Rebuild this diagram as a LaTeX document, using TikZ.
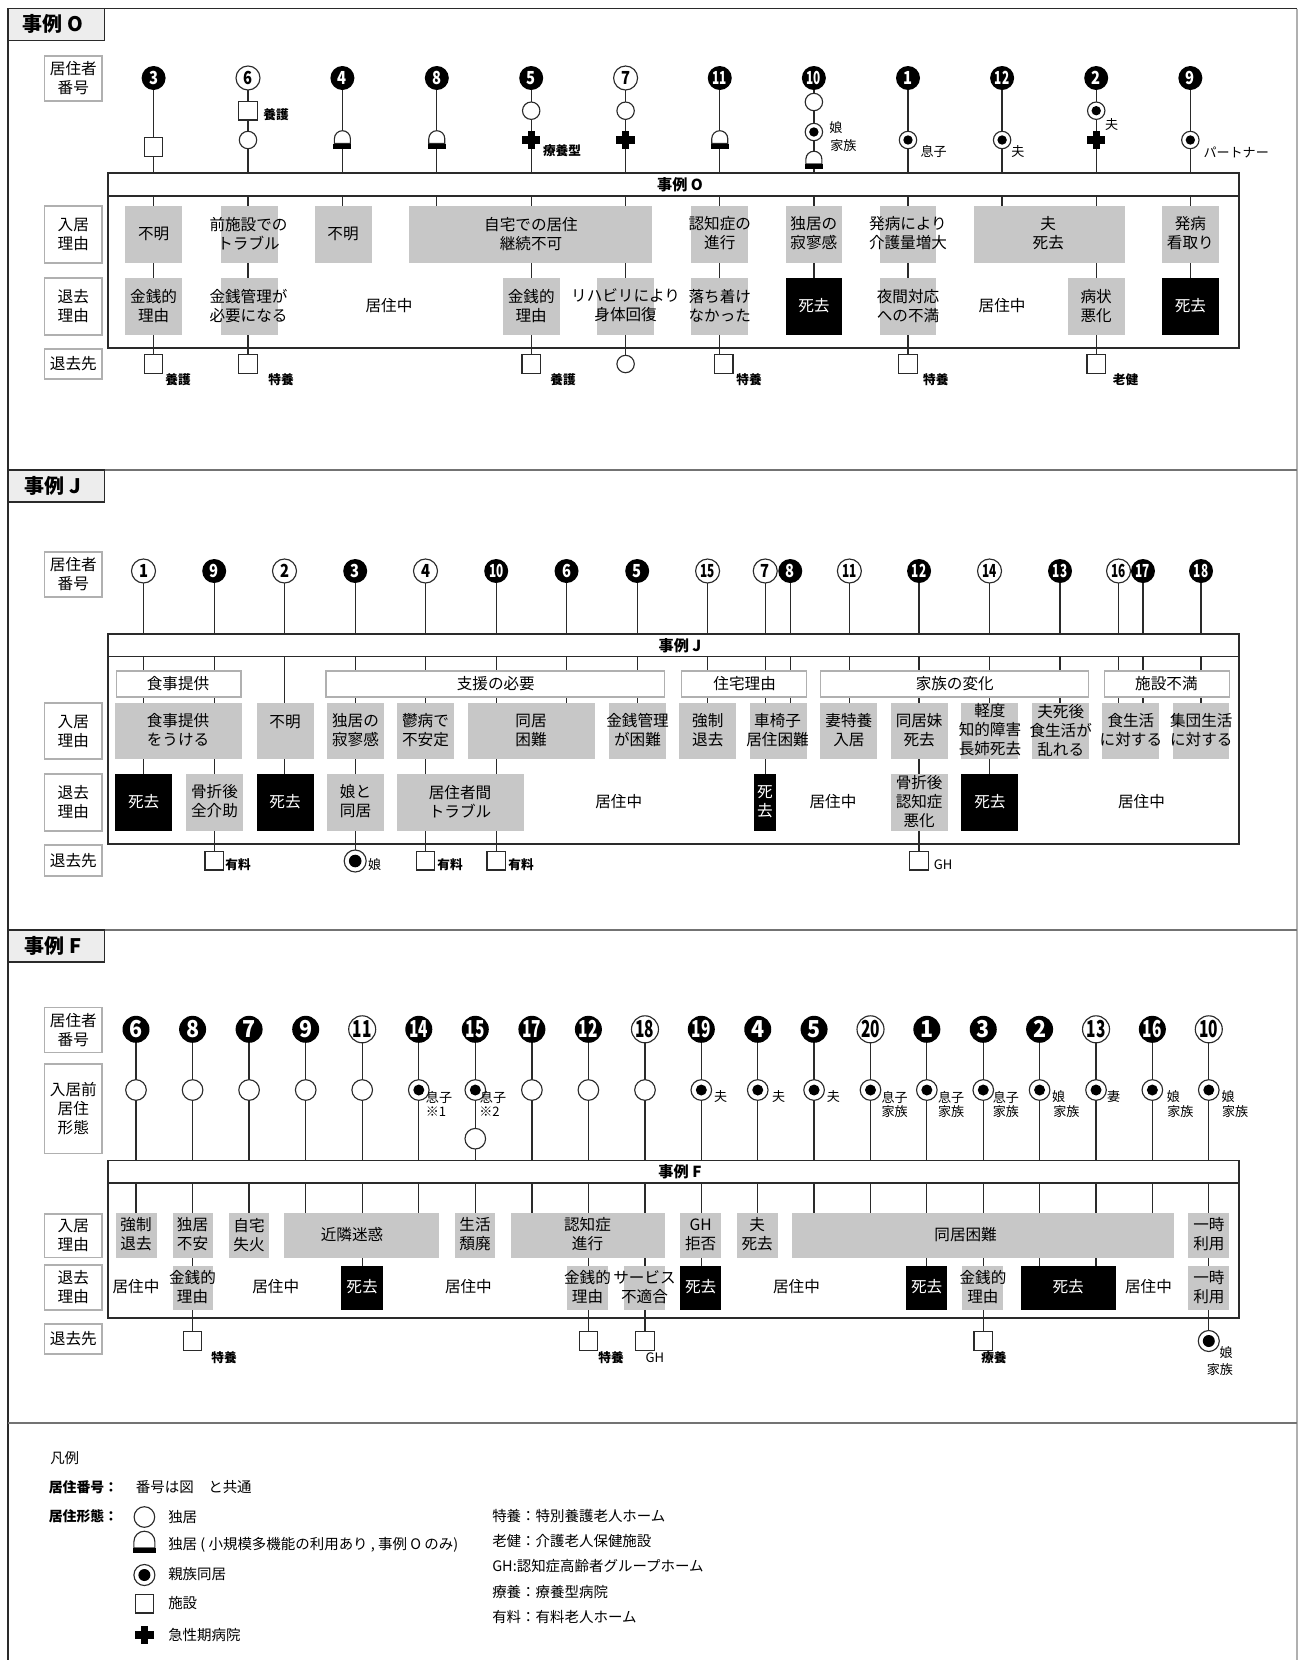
\documentclass[tikz,border=0pt]{standalone}
\usepackage{fontspec}
\setmainfont{Noto Sans CJK JP}
\usetikzlibrary{calc}
\pgfdeclarelayer{background}
\pgfsetlayers{background,main}
\newcounter{autoname}
\definecolor{ink}{HTML}{2A2A2A}
\definecolor{boxgray}{HTML}{C7C7C7}
\definecolor{edgegray}{HTML}{B0B0B0}
\tikzset{
  x=0.75pt,y=-0.75pt,
  declare function={fx(\t)=(\t>640)?(\t-0.003*(\t-640)):\t;},
  lnk/.style={draw=ink,line width=0.95pt},
  plainbox/.style={inner sep=0pt,outer sep=0pt},
  grayfill/.style={plainbox,fill=boxgray},
  blackfill/.style={plainbox,fill=black},
  catbox/.style={plainbox,fill=white,draw=edgegray,line width=0.8pt},
  labbox/.style={plainbox,fill=white,draw=edgegray,line width=1pt},
  headbox/.style={plainbox,fill=white,draw=ink,line width=1.1pt},
  panelbox/.style={plainbox,draw=ink,line width=1.1pt},
  tabbox/.style={plainbox,fill=black!7,draw=ink,line width=0.9pt},
  labt/.style={inner sep=0pt,align=center,font=\fontsize{11.7}{14.25}\selectfont},
  txt/.style={labt,yshift=0.7pt},
  wtxt/.style={txt,text=white},
  tag/.style={inner sep=0pt,align=center,font=\fontsize{9.8}{13}\selectfont},
  tagb/.style={inner sep=0pt,align=center,font=\fontsize{9.5}{12}\selectfont\bfseries},
  legtxt/.style={inner sep=0pt,anchor=west,font=\fontsize{10.85}{13}\selectfont},
  legb/.style={inner sep=0pt,anchor=west,font=\fontsize{10.4}{13}\selectfont\bfseries},
  sym/.style={draw=ink,line width=0.85pt,fill=white,inner sep=0pt,outer sep=0pt},
}
\newcommand\anyB[6]{\node[#1,minimum width={(fx(#4)-fx(#3))*0.75pt},minimum height={(#6-#5)*0.75pt}] (#2) at ({(fx(#3)+fx(#4))/2},{(#5+#6)/2}) {};}
% current row in \ya,\yb
\newcommand\Gbx[5]{\anyB{grayfill}{#1}{#2}{#3}{\ya}{\yb}\stepcounter{autoname}\node[txt] (a\arabic{autoname}) at ({fx(#4)},{(\ya+\yb)/2}) {#5};}
\newcommand\Kbx[5]{\anyB{blackfill}{#1}{#2}{#3}{\ya}{\yb}\stepcounter{autoname}\node[wtxt] (a\arabic{autoname}) at ({fx(#4)},{(\ya+\yb)/2}) {#5};}
\newcommand\Cat[5]{\anyB{catbox}{#1}{#2}{#3}{671}{697}\stepcounter{autoname}\node[labt] (a\arabic{autoname}) at ({fx(#4)},684) {#5};}
\newcommand\Free[2]{\stepcounter{autoname}\node[txt] (a\arabic{autoname}) at ({fx(#1)},{(\ya+\yb)/2}) {#2};}
\newcommand\Lab[4]{\anyB{labbox}{#1}{44.8}{102}{#2}{#3}\stepcounter{autoname}\node[labt] (a\arabic{autoname}) at (73.3,{(#2+#3)/2}) {#4};}
\newcommand\Tag[3]{\stepcounter{autoname}\node[tag] (a\arabic{autoname}) at ({fx(#1)},#2) {#3};}
\newcommand\TagB[3]{\stepcounter{autoname}\node[tagb] (a\arabic{autoname}) at ({fx(#1)},#2) {#3};}
\newcommand\tw[1]{\scalebox{\twsc}[1]{#1}}
\newcommand\Nb[3]{\node[circle,fill=black,text=white,inner sep=0pt,outer sep=0pt,minimum size={\ndia*0.75pt},font=\nfont] (#1) at ({fx(#2)},\ny) {\scalebox{\nsc}[1]{#3}};}
\newcommand\Nw[3]{\node[circle,sym,minimum size={\ndia*0.75pt},font=\nfont] (#1) at ({fx(#2)},\ny) {\scalebox{\nsc}[1]{#3}};}
\newcommand\Sq[3]{\node[sym,minimum size=13.9pt] (#1) at ({fx(#2)},#3) {};}
\newcommand\Ci[4]{\node[sym,circle,minimum size={#4*0.75pt}] (#1) at ({fx(#2)},#3) {};}
\newcommand\Dc[5]{\node[sym,circle,minimum size={#4*0.75pt},path picture={\fill[black] (path picture bounding box.center) circle ({#5*0.75pt});}] (#1) at ({fx(#2)},#3) {};}
% dome: name,x,y of dome/bar junction,radius px
\newcommand\Dm[4]{\coordinate (#1) at ({fx(#2)},#3);
  \filldraw[sym] ($(#1)+(-#4,0)$) -- ++(0,{-#4*0.6}) arc[start angle=180,end angle=0,radius={#4*0.75pt}] -- ($(#1)+(#4,0)$) -- cycle;
  \fill[black] ($(#1)+({-#4-1},0)$) rectangle ($(#1)+({#4+1},5)$);}
\newcommand\Cr[3]{\coordinate (#1) at ({fx(#2)},#3);
  \fill[black] ($(#1)+(-9.2,-3.6)$) rectangle ($(#1)+(9.2,3.6)$);
  \fill[black] ($(#1)+(-3.6,-9.2)$) rectangle ($(#1)+(3.6,9.2)$);}
\begin{document}
\begin{tikzpicture}
\useasboundingbox (0,0) rectangle (1298,1660);
% frame
\draw[ink,line width=0.9pt] (8,1660) -- (8,8.5) -- (1297,8.5);
\draw[edgegray,line width=0.9pt] (1297,8.5) -- (1297,1660);
\draw[black!55,line width=1pt] (8,470) -- (1297,470);
\draw[black!55,line width=1pt] (8,930) -- (1297,930);
\draw[black!55,line width=1pt] (8,1423) -- (1297,1423);
\tikzset{tabt/.style={inner sep=0pt,font=\fontsize{15}{18}\selectfont\bfseries}}
\anyB{tabbox}{tabO}{8}{104.5}{8.5}{40.7}\node[tabt] (tabOt) at (53,24) {事例 O};
\anyB{tabbox}{tabJ}{8}{104.5}{470}{502}\node[tabt] (tabJt) at (53,485.5) {事例 J};
\anyB{tabbox}{tabF}{8}{104.5}{930}{962}\node[tabt] (tabFt) at (53,945.5) {事例 F};
\tikzset{headt/.style={inner sep=0pt,font=\fontsize{11.4}{14}\selectfont\bfseries}}
%==================== CASE O
\anyB{panelbox}{panO}{108}{1241}{173}{348}
\anyB{headbox}{hdO}{108}{1241}{173}{196}\node[headt] (hdOt) at (680,185) {事例 O};
\Lab{lO1}{56}{101}{居住者\\番号}
\Lab{lO2}{206}{263}{入居\\理由}
\Lab{lO3}{278}{335}{退去\\理由}
\Lab{lO4}{349}{379}{退去先}
\def\ndia{24}\def\ny{78}\def\nsc{.82}\def\twsc{.8}\def\nfont{\fontsize{13.5}{13.5}\selectfont\bfseries}
\Nb{O1}{153.6}{3}\Nw{O2}{248}{6}\Nb{O3}{342.4}{4}\Nb{O4}{436.8}{8}\Nb{O5}{531.2}{5}\Nw{O6}{625.6}{7}
\Nb{O7}{720}{\tw{11}}\Nb{O8}{814.4}{\tw{10}}\Nb{O9}{908.8}{1}\Nb{O10}{1003.2}{\tw{12}}\Nb{O11}{1097.6}{2}\Nb{O12}{1192}{9}
% entry row
\def\ya{206}\def\yb{263}
\Gbx{eO1}{125}{182}{153.6}{不明}
\Gbx{eO2}{220.5}{277.5}{248.5}{前施設での\\トラブル}
\Gbx{eO3}{314.5}{371.5}{343}{不明}
\Gbx{eO4}{409}{652}{531}{自宅での居住\\継続不可}
\Gbx{eO7}{691.5}{748.5}{720}{認知症の\\進行}
\Gbx{eO8}{786}{843}{814.4}{独居の\\寂寥感}
\Gbx{eO9}{880.3}{937.3}{908.8}{発病により\\介護量増大}
\Gbx{eO10}{974.6}{1126}{1049.5}{夫\\死去}
\Gbx{eO12}{1163.5}{1220.5}{1192}{発病\\看取り}
% exit row
\def\ya{278}\def\yb{335}
\Gbx{rO1}{125}{182}{153.6}{金銭的\\理由}
\Gbx{rO2}{220.5}{277.5}{248.5}{金銭管理が\\必要になる}
\Free{389}{居住中}
\Gbx{rO5}{502.7}{559.7}{531.2}{金銭的\\理由}
\Gbx{rO6}{597}{654}{625.6}{リハビリにより\\身体回復}
\Gbx{rO7}{691.5}{748.5}{720}{落ち着け\\なかった}
\Kbx{rO8}{786}{843}{814.4}{死去}
\Gbx{rO9}{880.3}{937.3}{908.8}{夜間対応\\への不満}
\Free{1003.2}{居住中}
\Gbx{rO11}{1069}{1126}{1097.6}{病状\\悪化}
\Kbx{rO12}{1163.5}{1220.5}{1192}{死去}
% symbols
\Sq{sO1}{153.6}{147}
\Sq{sO2}{248}{110.7}\Ci{cO2}{248}{140}{17.4}\TagB{276}{115}{養護}
\Dm{dO3}{342.4}{143.5}{8}
\Dm{dO4}{436.8}{143.5}{8}
\Ci{cO5}{531.2}{110.7}{17.4}\Cr{pO5}{531.2}{140}\TagB{562}{151}{療養型}
\Ci{cO6}{625.6}{110.7}{17.4}\Cr{pO6}{625.6}{140}
\Dm{dO7}{720}{143.5}{8}
\Ci{cO8}{814.4}{102}{17.4}\Dc{gO8}{814.4}{132}{17.4}{4.7}\Dm{dO8}{814.4}{164}{8}
\Tag{836.5}{128}{娘}\Tag{844}{146}{家族}
\Dc{gO9}{908.8}{140}{17.4}{4.7}\Tag{934.6}{151}{息子}
\Dc{gO10}{1003.2}{140}{17.4}{4.7}\Tag{1019}{152}{夫}
\Dc{gO11}{1097.6}{110.7}{17.4}{4.7}\Cr{pO11}{1097.6}{140}\Tag{1113}{125}{夫}
\Dc{gO12}{1192}{140}{17.4}{4.7}\Tag{1238}{152}{パートナー}
% exit symbols
\Sq{xO1}{153.6}{364}\TagB{178}{380}{養護}
\Sq{xO2}{248}{364}\TagB{281}{380}{特養}
\Sq{xO5}{531.2}{364}\TagB{563}{380}{養護}
\Ci{xO6}{625.6}{364}{17.4}
\Sq{xO7}{724}{364}\TagB{749.4}{380}{特養}
\Sq{xO9}{908.8}{364}\TagB{936.7}{380}{特養}
\Sq{xO11}{1097.6}{364}\TagB{1127}{380}{老健}
%==================== CASE J
\anyB{panelbox}{panJ}{108}{1241}{634}{844}
\anyB{headbox}{hdJ}{108}{1241}{634}{656.7}\node[headt] (hdJt) at (680,646) {事例 J};
\Lab{lJ1}{552}{597}{居住者\\番号}
\Lab{lJ2}{703}{759}{入居\\理由}
\Lab{lJ3}{774}{831}{退去\\理由}
\Lab{lJ4}{845}{876}{退去先}
\def\ny{571}
\Nw{J1}{143.5}{1}\Nb{J2}{214.2}{9}\Nw{J3}{284.5}{2}\Nb{J4}{355.2}{3}\Nw{J5}{425.5}{4}\Nb{J6}{496.2}{\tw{10}}\Nb{J7}{566.5}{6}\Nb{J8}{637.2}{5}
\Nw{J9}{707.8}{\tw{15}}\Nw{J10}{765.6}{7}\Nb{J11}{790.7}{8}\Nw{J12}{850}{\tw{11}}\Nb{J13}{919.9}{\tw{12}}\Nw{J14}{990.6}{\tw{14}}\Nb{J15}{1061.3}{\tw{13}}
\Nw{J16}{1120}{\tw{16}}\Nb{J17}{1144.5}{\tw{17}}\Nb{J18}{1202.7}{\tw{18}}
% categories
\Cat{cJ1}{116.6}{241}{178}{食事提供}
\Cat{cJ2}{326}{664.4}{495.8}{支援の必要}
\Cat{cJ3}{682}{807}{745}{住宅理由}
\Cat{cJ4}{821}{1090}{955.7}{家族の変化}
\Cat{cJ5}{1106}{1231}{1168}{施設不満}
% entry row
\def\ya{703}\def\yb{759}
\Gbx{eJ1}{115.3}{241.6}{178}{食事提供\\をうける}
\anyB{grayfill}{eJ3}{256.7}{313.5}{703}{759}\node[txt] (eJ3t) at (285,723) {不明};
\Gbx{eJ4}{327}{384}{355.5}{独居の\\寂寥感}
\Gbx{eJ5}{397}{454}{425.5}{鬱病で\\不安定}
\Gbx{eJ6}{467.6}{595}{531}{同居\\困難}
\Gbx{eJ8}{609}{666}{637.5}{金銭管理\\が困難}
\Gbx{eJ9}{679.6}{736.4}{708}{強制\\退去}
\Gbx{eJ10}{750}{807}{778}{車椅子\\居住困難}
\Gbx{eJ12}{821}{877.8}{849.5}{妻特養\\入居}
\Gbx{eJ13}{891.7}{948.9}{920}{同居妹\\死去}
\Gbx{eJ14}{962.4}{1019.2}{991}{軽度\\知的障害\\長姉死去}
\Gbx{eJ15}{1033}{1090}{1062}{夫死後\\食生活が\\乱れる}
\Gbx{eJ16}{1103.8}{1160.6}{1132.4}{食生活\\に対する}
\Gbx{eJ18}{1174.5}{1231}{1203}{集団生活\\に対する}
% exit row
\def\ya{774}\def\yb{831}
\Kbx{rJ1}{115.3}{172}{143.6}{死去}
\Gbx{rJ2}{186}{243}{214.5}{骨折後\\全介助}
\Kbx{rJ3}{256.7}{313.5}{285}{死去}
\Gbx{rJ4}{327}{384}{355.5}{娘と\\同居}
\Gbx{rJ5}{397}{524}{460}{居住者間\\トラブル}
\Free{618.7}{居住中}
\Kbx{rJ10}{754}{776.8}{765.4}{死\\去}
\Free{833.6}{居住中}
\Gbx{rJ13}{891.7}{948.9}{920}{骨折後\\認知症\\悪化}
\Kbx{rJ14}{962.4}{1019.2}{991}{死去}
\Free{1143}{居住中}
% exit symbols
\Sq{xJ2}{214.2}{860.7}\TagB{238}{865}{有料}
\Dc{xJ4}{355.2}{861}{22}{6.3}\Tag{374.6}{865}{娘}
\Sq{xJ5}{425.5}{860.7}\TagB{450}{865}{有料}
\Sq{xJ6}{496.2}{860.7}\TagB{521}{865}{有料}
\Sq{xJ13}{919.9}{860.7}\Tag{944}{865}{GH}
%==================== CASE F
\anyB{panelbox}{panF}{108}{1241}{1160.7}{1318}
\anyB{headbox}{hdF}{108}{1241}{1160.7}{1183}\node[headt] (hdFt) at (680,1172) {事例 F};
\Lab{lF1}{1007.7}{1052.7}{居住者\\番号}
\Lab{lF2}{1064}{1153.3}{入居前\\居住\\形態}
\Lab{lF3}{1214}{1257.7}{入居\\理由}
\Lab{lF4}{1265}{1310}{退去\\理由}
\Lab{lF5}{1324}{1354}{退去先}
\def\ndia{27}\def\ny{1029.3}\def\nsc{.92}\def\twsc{.72}\def\nfont{\fontsize{17.5}{17.5}\selectfont\bfseries}
\Nb{F1}{136}{6}\Nb{F2}{192.6}{8}\Nb{F3}{249.1}{7}\Nb{F4}{305.7}{9}\Nw{F5}{362.2}{\tw{11}}\Nb{F6}{418.8}{\tw{14}}\Nb{F7}{475.3}{\tw{15}}
\Nb{F8}{531.9}{\tw{17}}\Nb{F9}{588.4}{\tw{12}}\Nw{F10}{645}{\tw{18}}\Nb{F11}{701.5}{\tw{19}}\Nb{F12}{758.1}{4}\Nb{F13}{814.6}{5}\Nw{F14}{871.2}{\tw{20}}
\Nb{F15}{927.7}{1}\Nb{F16}{984.3}{3}\Nb{F17}{1040.8}{2}\Nw{F18}{1097.4}{\tw{13}}\Nb{F19}{1153.9}{\tw{16}}\Nw{F20}{1210.5}{\tw{10}}
% residence
\Ci{cF1}{136}{1090}{20.6}\Ci{cF2}{192.6}{1090}{20.6}\Ci{cF3}{249.1}{1090}{20.6}\Ci{cF4}{305.7}{1090}{20.6}\Ci{cF5}{362.2}{1090}{20.6}
\Dc{cF6}{418.8}{1090}{20.6}{5.5}\Dc{cF7}{475.3}{1090}{20.6}{5.5}\Ci{c2F7}{475.3}{1138.7}{20.6}
\Ci{cF8}{531.9}{1090}{20.6}\Ci{cF9}{588.4}{1090}{20.6}\Ci{cF10}{645}{1090}{20.6}
\Dc{cF11}{701.5}{1090}{20.6}{5.5}\Dc{cF12}{758.1}{1090}{20.6}{5.5}\Dc{cF13}{814.6}{1090}{20.6}{5.5}\Dc{cF14}{871.2}{1090}{20.6}{5.5}
\Dc{cF15}{927.7}{1090}{20.6}{5.5}\Dc{cF16}{984.3}{1090}{20.6}{5.5}\Dc{cF17}{1040.8}{1090}{20.6}{5.5}\Dc{cF18}{1097.4}{1090}{20.6}{5.5}
\Dc{cF19}{1153.9}{1090}{20.6}{5.5}\Dc{cF20}{1210.5}{1090}{20.6}{5.5}
\Tag{439}{1097}{息子}\Tag{436}{1112}{※1}\Tag{493}{1097}{息子}\Tag{489.5}{1112}{※2}
\Tag{721}{1097}{夫}\Tag{779}{1097}{夫}\Tag{834}{1097}{夫}
\Tag{895.5}{1097}{息子}\Tag{895.5}{1112}{家族}
\Tag{952}{1097}{息子}\Tag{952}{1112}{家族}
\Tag{1007}{1097}{息子}\Tag{1007}{1112}{家族}
\Tag{1060}{1097}{娘}\Tag{1067.6}{1112}{家族}
\Tag{1115}{1097}{妻}
\Tag{1175}{1097}{娘}\Tag{1182}{1112}{家族}
\Tag{1230}{1097}{娘}\Tag{1237}{1112}{家族}
% entry row
\def\ya{1213}\def\yb{1258}
\Gbx{eF1}{115.7}{156.6}{136}{強制\\退去}
\Gbx{eF2}{172.6}{212.5}{192.5}{独居\\不安}
\Gbx{eF3}{229}{269.4}{249}{自宅\\失火}
\Gbx{eF4}{284}{439}{352}{近隣迷惑}
\Gbx{eF7}{454.5}{495}{475}{生活\\頽廃}
\Gbx{eF8}{510.5}{665}{587.5}{認知症\\進行}
\Gbx{eF11}{680.4}{721.2}{700.8}{GH\\拒否}
\Gbx{eF12}{737}{778}{757.5}{夫\\死去}
\Gbx{eF13}{792.8}{1175.8}{966.6}{同居困難}
\Gbx{eF20}{1190}{1231}{1210.7}{一時\\利用}
% exit row
\def\ya{1265.7}\def\yb{1310}
\Free{136}{居住中}
\Gbx{rF2}{172.6}{212.5}{192.5}{金銭的\\理由}
\Free{275.7}{居住中}
\Kbx{rF5}{341.3}{382.6}{362}{死去}
\Free{468.4}{居住中}
\Gbx{rF9}{567}{608}{587.5}{金銭的\\理由}
\Gbx{rF10}{623.7}{665}{644.5}{サービス\\不適合}
\Kbx{rF11}{680.4}{721.2}{700.8}{死去}
\Free{797}{居住中}
\Kbx{rF15}{906.8}{948}{927.5}{死去}
\Gbx{rF16}{963}{1004.5}{984}{金銭的\\理由}
\Kbx{rF17}{1021.7}{1117}{1069.5}{死去}
\Free{1150}{居住中}
\Gbx{rF20}{1190}{1231}{1210.7}{一時\\利用}
% exit symbols
\Sq{xF2}{192.6}{1341}\TagB{224}{1358}{特養}
\Sq{xF9}{588.4}{1341}\TagB{611}{1358}{特養}
\Sq{xF10}{645}{1341}\Tag{655}{1358}{GH}
\Sq{xF16}{984.3}{1341}\TagB{995}{1358}{療養}
\Dc{xF20}{1210.5}{1341}{21}{6}\Tag{1228}{1353}{娘}\Tag{1221.6}{1370}{家族}
%==================== LEGEND
\node[legtxt] (lgA) at (50,1458) {凡例};
\node[legb] (lgB) at (48.5,1487) {居住番号：};
\node[legtxt] (lgC) at (135.7,1487) {番号は図　と共通};
\node[legb] (lgD) at (48.5,1516) {居住形態：};
\Ci{lgS1}{144.4}{1517}{20.6}\node[legtxt] (lgT1) at (168,1517) {独居};
\Dm{lgS2}{144.4}{1548}{10.5}\node[legtxt] (lgT2) at (168,1545) {独居 ( 小規模多機能の利用あり , 事例 O のみ)};
\Dc{lgS3}{144.4}{1575}{21}{6}\node[legtxt] (lgT3) at (168,1574) {親族同居};
\Sq{lgS4}{144.4}{1603.7}\node[legtxt] (lgT4) at (168,1603) {施設};
\Cr{lgS5}{144.4}{1635}\node[legtxt] (lgT5) at (168,1635) {急性期病院};
\node[legtxt] (lgR1) at (492,1516) {特養：特別養護老人ホーム};
\node[legtxt] (lgR2) at (492,1541) {老健：介護老人保健施設};
\node[legtxt] (lgR3) at (492,1566) {GH:認知症高齢者グループホーム};
\node[legtxt] (lgR4) at (492,1592) {療養：療養型病院};
\node[legtxt] (lgR5) at (492,1617) {有料：有料老人ホーム};
%==================== CONNECTORS
\begin{pgfonlayer}{background}
\foreach \a/\b in {O1/xO1,O2/xO2,O3/eO3,O4/eO4,O5/xO5,O6/xO6,O7/xO7,O8/rO8,O9/xO9,O10/eO10,O11/xO11,O12/rO12,
 J1/rJ1,J2/xJ2,J3/rJ3,J4/xJ4,J5/xJ5,J6/xJ6,J7/eJ6,J8/eJ8,J9/eJ9,J10/rJ10,J11/eJ10,J12/eJ12,J13/xJ13,J14/rJ14,J15/eJ15,J16/eJ16,J17/eJ16,J18/eJ18,
 F1/eF1,F2/xF2,F3/eF3,F4/eF4,F5/rF5,F6/eF4,F7/eF7,F8/eF8,F9/xF9,F10/xF10,F11/rF11,F12/eF12,F13/eF13,F14/eF13,F15/rF15,F16/xF16,F17/rF17,F18/rF17,F19/eF13,F20/xF20}
  \draw[lnk] (\a.center) -- (\a.center |- \b.center);
\end{pgfonlayer}
\end{tikzpicture}
\end{document}
